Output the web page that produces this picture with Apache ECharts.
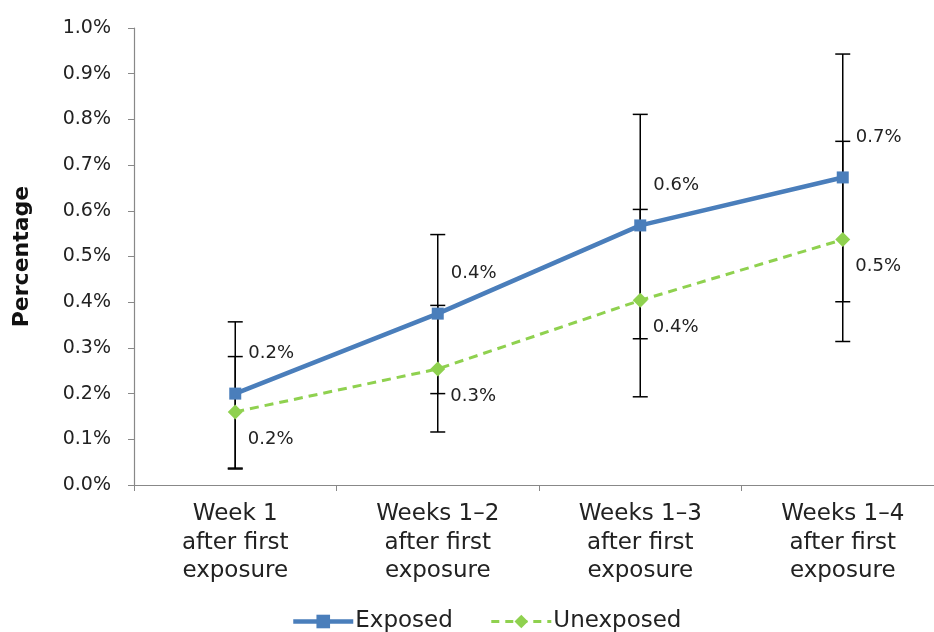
<!DOCTYPE html>
<html>
<head>
<meta charset="utf-8">
<script src="https://cdn.jsdelivr.net/npm/echarts@6/dist/echarts.min.js"></script>
<style>
html, body { margin: 0; padding: 0; background: #fff; }
#chart { width: 934px; height: 632px; }
</style>
</head>
<body>
<div id="chart"></div>
<script>
// Cumulative percentage by period after first exposure
const categories = [
  'Week 1\nafter first\nexposure',
  'Weeks 1\u20132\nafter first\nexposure',
  'Weeks 1\u20133\nafter first\nexposure',
  'Weeks 1\u20134\nafter first\nexposure'
];
const yTicks = [0, 0.1, 0.2, 0.3, 0.4, 0.5, 0.6, 0.7, 0.8, 0.9, 1.0];

const exposed = [0.20, 0.375, 0.568, 0.673];
const exposedLow = [0.037, 0.20, 0.32, 0.401];
const exposedHigh = [0.357, 0.548, 0.811, 0.943];

const unexposed = [0.16, 0.254, 0.404, 0.537];
const unexposedLow = [0.035, 0.116, 0.193, 0.314];
const unexposedHigh = [0.281, 0.393, 0.603, 0.752];

const FONT = '"DejaVu Sans", Verdana, sans-serif';
const BLUE = '#4a7ebb';
const GREEN = '#8fd14f';

// Vertical interval with caps at both ends
function errorBar(params, api) {
  const x = api.value(0);
  const lo = api.coord([x, api.value(1)]);
  const hi = api.coord([x, api.value(2)]);
  const half = 7.5;
  const style = { stroke: '#000', lineWidth: 1.5 };
  return {
    type: 'group',
    children: [
      { type: 'line', shape: { x1: lo[0], y1: lo[1], x2: hi[0], y2: hi[1] }, style },
      { type: 'line', shape: { x1: lo[0] - half, y1: lo[1], x2: lo[0] + half, y2: lo[1] }, style },
      { type: 'line', shape: { x1: hi[0] - half, y1: hi[1], x2: hi[0] + half, y2: hi[1] }, style }
    ]
  };
}

const chart = echarts.init(document.getElementById('chart'), null, { renderer: 'canvas' });

chart.setOption({
  animation: false,
  backgroundColor: '#fff',
  grid: { left: 134, width: 810, top: 28, height: 457, outerBoundsMode: 'none', containLabel: false },
  legend: {
    top: 605,
    left: 286,
    itemWidth: 60,
    itemHeight: 17,
    itemGap: 37,
    textStyle: { fontFamily: FONT, fontSize: 23, color: '#222', padding: [0, 0, 0, -3] },
    data: [
      { name: 'Exposed', lineStyle: { width: 4.5 } },
      { name: 'Unexposed', lineStyle: { width: 3, type: [8, 6] } }
    ]
  },
  xAxis: {
    type: 'category',
    data: categories,
    axisLine: { lineStyle: { color: '#888', width: 1.2 } },
    axisTick: { show: true, length: 6, lineStyle: { color: '#888' } },
    axisLabel: {
      fontFamily: FONT, fontSize: 23, color: '#222',
      lineHeight: 28.5, margin: 15, interval: 0
    }
  },
  yAxis: {
    type: 'value',
    min: 0, max: 1.0, interval: 0.1,
    name: 'Percentage',
    nameLocation: 'middle',
    nameGap: 101,
    nameRotate: 90,
    nameTextStyle: { fontFamily: FONT, fontSize: 22, fontWeight: 'bold', color: '#111' },
    splitLine: { show: false },
    axisLine: { show: true, lineStyle: { color: '#888', width: 1.2 } },
    axisTick: { show: true, length: 6, lineStyle: { color: '#888' } },
    axisLabel: {
      fontFamily: FONT, fontSize: 19, color: '#222', margin: 23,
      formatter: v => yTicks.includes(Math.round(v * 10) / 10) ? v.toFixed(1) + '%' : ''
    }
  },
  series: [
    {
      name: 'Exposed bars',
      type: 'custom',
      renderItem: errorBar,
      z: 1,
      data: categories.map((c, i) => [i, exposedLow[i], exposedHigh[i]])
    },
    {
      name: 'Unexposed bars',
      type: 'custom',
      renderItem: errorBar,
      z: 1,
      data: categories.map((c, i) => [i, unexposedLow[i], unexposedHigh[i]])
    },
    {
      name: 'Unexposed',
      type: 'line',
      z: 3,
      data: unexposed,
      symbol: 'diamond',
      symbolSize: 15,
      itemStyle: { color: GREEN },
      lineStyle: { color: GREEN, width: 3, type: [9, 6] },
      label: {
        show: true,
        position: 'right',
        offset: [0, 27],
        fontFamily: FONT, fontSize: 18, color: '#222',
        formatter: p => p.value.toFixed(1) + '%'
      }
    },
    {
      name: 'Exposed',
      type: 'line',
      z: 4,
      data: exposed,
      symbol: 'rect',
      symbolSize: 12,
      itemStyle: { color: BLUE },
      lineStyle: { color: BLUE, width: 4.5 },
      label: {
        show: true,
        position: 'right',
        offset: [2, -40],
        fontFamily: FONT, fontSize: 18, color: '#222',
        formatter: p => p.value.toFixed(1) + '%'
      }
    }
  ]
});
</script>
</body>
</html>
